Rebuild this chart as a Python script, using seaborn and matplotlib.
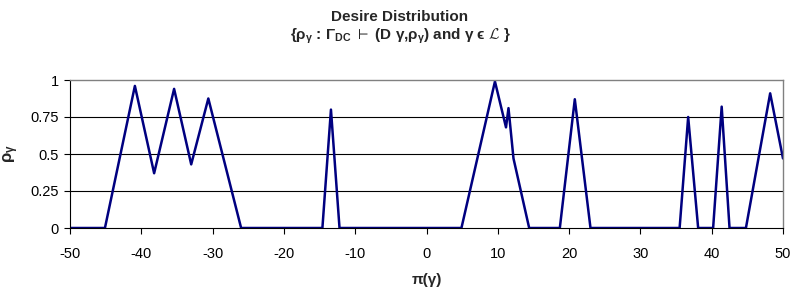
import matplotlib
matplotlib.use("Agg")
import matplotlib.pyplot as plt
import seaborn as sns
import pandas as pd

x_vals = [-50, -45.1, -40.9, -38.2, -35.4, -33.0, -30.6, -26.0, -14.6, -13.4, -12.2,
          4.9, 9.6, 11.15, 11.5, 12.2, 14.4, 18.7, 20.8, 23.0, 35.5, 36.7, 38.1,
          40.2, 41.4, 42.5, 44.8, 48.2, 50]
rho_vals = [0, 0, 0.96, 0.37, 0.94, 0.43, 0.875, 0, 0, 0.80, 0,
            0, 0.99, 0.68, 0.81, 0.47, 0, 0, 0.87, 0, 0, 0.75, 0,
            0, 0.82, 0, 0, 0.91, 0.47]
x_ticks = [-50, -40, -30, -20, -10, 0, 10, 20, 30, 40, 50]
y_ticks = [0, 0.25, 0.5, 0.75, 1]
y_tick_labels = ["0", "0.25", "0.5", "0.75", "1"]

df = pd.DataFrame({"pi": x_vals, "rho": rho_vals})

sns.set_style("white")
plt.rcParams["font.family"] = ["Liberation Sans", "DejaVu Sans"]
plt.rcParams["mathtext.fontset"] = "custom"
plt.rcParams["mathtext.rm"] = "Liberation Sans:bold"
plt.rcParams["mathtext.it"] = "Liberation Sans:bold"
plt.rcParams["mathtext.bf"] = "Liberation Sans:bold"
plt.rcParams["mathtext.cal"] = "cmsy10"
plt.rcParams["mathtext.fallback"] = "stixsans"

fig = plt.figure(figsize=(7.91, 2.88), dpi=100)
ax = fig.add_axes([70 / 791, 1 - 228 / 288, 713 / 791, 148 / 288])

sns.lineplot(data=df, x="pi", y="rho", ax=ax, color="#000080", linewidth=1.8, sort=False)

ax.set_xlim(-50, 50)
ax.set_ylim(0, 1)
ax.set_xticks(x_ticks)
ax.set_xticklabels([str(t) for t in x_ticks])
ax.set_yticks(y_ticks)
ax.set_yticklabels(y_tick_labels)
for yv in y_ticks[1:-1]:
    ax.axhline(yv, color="#000000", linewidth=0.8, zorder=0)

for s in ["top", "right"]:
    ax.spines[s].set_color("#808080")
    ax.spines[s].set_linewidth(1.0)
ax.spines["left"].set_color("#000000")
ax.spines["bottom"].set_color("#000000")
ax.spines["left"].set_linewidth(0.8)
ax.spines["bottom"].set_linewidth(0.8)

ax.tick_params(axis="both", direction="out", length=4, width=0.8, color="#000000",
               labelsize=10.5, labelcolor="#000000", pad=4)
ax.tick_params(axis="x", bottom=True, pad=10)
ax.tick_params(axis="y", left=True)

ax.set_xlabel("π(γ)", fontsize=11, fontweight="bold", labelpad=8)
ax.set_ylabel(r"$\rho_\gamma$", fontsize=12, labelpad=7)

fig.text(400 / 791, 1 - 17 / 288, "Desire Distribution",
         ha="center", va="center", fontsize=11, fontweight="bold")
fig.text(400 / 791, 1 - 36 / 288,
         r"{$\rho_\gamma$ : $\Gamma_{DC}$ $\vdash$ (D γ,$\rho_\gamma$) and γ ϵ $\mathcal{L}$ }",
         ha="center", va="center", fontsize=11, fontweight="bold")

fig.savefig("out.png", dpi=100)
